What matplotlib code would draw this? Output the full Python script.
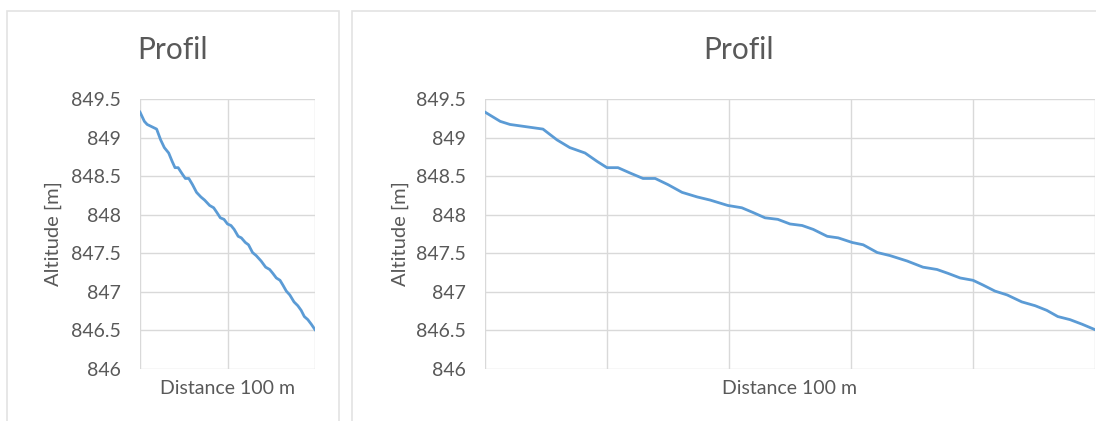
import matplotlib.pyplot as plt
from matplotlib.patches import Rectangle

# profile: distance (m) and altitude (m)
dist = [0, 2.5, 4.1, 9.5, 11.8, 13.9, 16.4, 18.4, 20.0, 21.8, 23.8, 25.9, 27.9, 30.0,
        32.3, 34.8, 36.9, 39.8, 42.1, 43.9, 45.9, 48.0, 50.0, 52.0, 53.8, 56.1, 57.9,
        60.2, 62.0, 64.3, 66.4, 69.2, 71.8, 74.1, 75.9, 77.9, 80.0, 81.6, 83.6, 85.6,
        88.0, 90.2, 92.1, 93.9, 95.9, 97.9, 100]
alt = [849.33, 849.21, 849.17, 849.11, 848.97, 848.87, 848.80, 848.69, 848.61, 848.61,
       848.54, 848.47, 848.47, 848.39, 848.29, 848.23, 848.19, 848.12, 848.09, 848.03,
       847.96, 847.94, 847.88, 847.86, 847.81, 847.72, 847.70, 847.64, 847.61, 847.51,
       847.47, 847.40, 847.32, 847.29, 847.24, 847.18, 847.15, 847.09, 847.01, 846.96,
       846.87, 846.82, 846.76, 846.68, 846.64, 846.58, 846.51]
yticks = [846, 846.5, 847, 847.5, 848, 848.5, 849, 849.5]
ylabels = ['846', '846.5', '847', '847.5', '848', '848.5', '849', '849.5']

plt.rcParams['font.family'] = ['Lato', 'DejaVu Sans']
txt = '#595959'
grid = '#d9d9d9'
W, H = 1096, 421

fig = plt.figure(figsize=(W/100, H/100), dpi=100)

# panel frames (pixel boxes -> figure fraction)
for x0, x1 in [(7, 339), (352, 1110)]:
    fig.patches.append(Rectangle((x0/W, -0.1), (x1-x0)/W, 1.1 - 11/H, transform=fig.transFigure,
                                 fill=False, edgecolor='#e3e3e3', lw=1.2))

def panel(px0, px1, xgrid, title_x, ylab_x):
    ax = fig.add_axes([px0/W, 1-369/H, (px1-px0)/W, 270/H])
    ax.plot(dist, alt, color='#5b9bd5', lw=2.0, solid_joinstyle='round')
    ax.set_xlim(0, 100)
    ax.set_ylim(846, 849.5)
    ax.set_xticks(xgrid)
    ax.set_xticklabels([])
    ax.set_yticks(yticks)
    ax.set_yticklabels(ylabels, color=txt, fontsize=14)
    ax.tick_params(length=0, pad=14)
    ax.grid(True, color=grid, lw=1)
    for s in ax.spines.values():
        s.set_visible(False)
    fig.text((px0+px1)/2/W, 1-388/H, 'Distance 100 m', color=txt, fontsize=14,
             ha='center', va='center')
    fig.text(ylab_x/W, 1-234/H, 'Altitude [m]', rotation=90, color=txt, fontsize=14.5,
             ha='center', va='center')
    fig.text(title_x/W, 1-50/H, 'Profil', color=txt, fontsize=21.5, ha='center', va='center')
    return ax

panel(140, 315, [0, 50, 100], 173, 53)
panel(485, 1095, [0, 20, 40, 60, 80, 100], 738, 400)

fig.savefig('out.png', dpi=100, facecolor='white')
